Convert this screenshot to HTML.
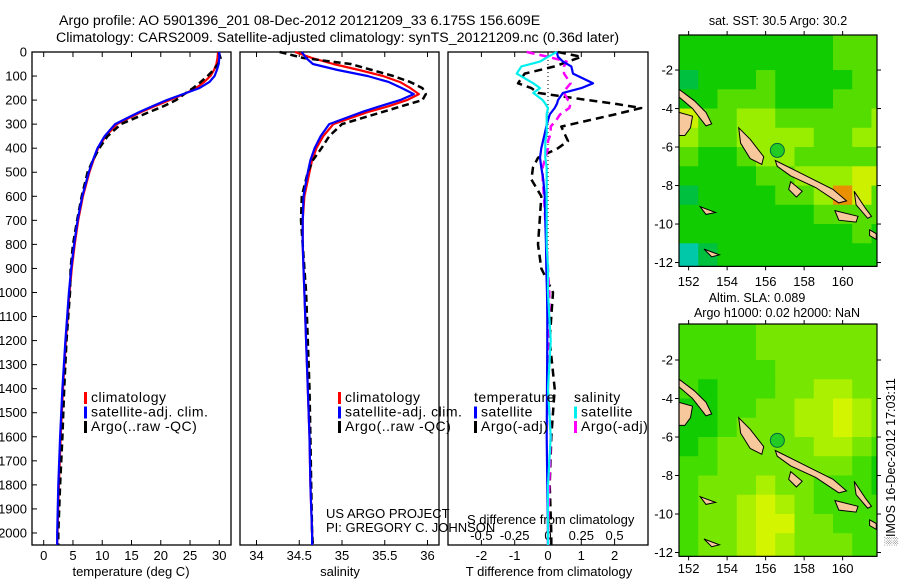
<!DOCTYPE html>
<html><head><meta charset="utf-8"><style>
html,body{margin:0;padding:0;background:#fff;width:900px;height:580px;overflow:hidden}
svg{display:block;font-family:"Liberation Sans",sans-serif}
.lg text{letter-spacing:0.5px}
</style></head><body>
<svg id="chart" width="900" height="580" viewBox="0 0 900 580" xmlns="http://www.w3.org/2000/svg">
<text x="59" y="25" font-size="14.2">Argo profile: AO 5901396_201 08-Dec-2012 20121209_33 6.175S 156.609E</text>
<text x="56" y="42" font-size="14.2">Climatology: CARS2009. Satellite-adjusted climatology: synTS_20121209.nc (0.36d later)</text>
<g id="g"></g>
</svg>
<script>
// ---- profile data ----
const depths=[0,25,50,75,100,125,150,175,200,225,250,300,350,400,450,500,600,700,800,900,1000,1200,1400,1600,1800,2000,2050];
const tClim=[29.8,29.7,29.5,29.1,28.5,27.4,26,24,21.5,19,16.6,12.5,10.6,9.3,8.5,7.8,6.7,5.9,5.3,4.8,4.4,3.8,3.3,2.9,2.6,2.35,2.3];
const tSat=[30.0,30.0,29.9,29.6,29.2,28.3,26.6,23.8,21.0,18.6,16.3,12.2,10.4,9.2,8.4,7.7,6.6,5.8,5.2,4.7,4.3,3.7,3.2,2.8,2.5,2.3,2.3];
const tArgo=[29.9,30.2,29.8,29.0,28.0,26.8,25.5,24.0,22.6,20.5,18.0,13.2,10.9,9.5,8.4,7.5,6.5,5.7,5.0,4.6,4.5,3.9,3.5,3.2,2.8,2.5,2.5];
const sClim=[34.45,34.65,34.9,35.2,35.48,35.68,35.8,35.9,35.76,35.55,35.3,34.9,34.78,34.7,34.65,34.62,34.56,34.54,34.54,34.55,34.56,34.58,34.6,34.62,34.63,34.65,34.65];
const sSat=[34.53,34.58,34.66,34.95,35.3,35.55,35.7,35.84,35.68,35.45,35.23,34.85,34.75,34.68,34.63,34.6,34.55,34.54,34.54,34.55,34.56,34.58,34.6,34.62,34.63,34.65,34.65];
const sArgo=[34.27,34.55,35.1,35.35,35.6,35.8,35.94,35.98,35.94,35.7,35.47,35.0,34.85,34.76,34.66,34.6,34.53,34.52,34.54,34.56,34.58,34.6,34.62,34.63,34.64,34.65,34.66];
const diffDepths=[0,20,40,60,90,130,150,170,200,215,233,260,285,310,340,370,400,440,480,530,600,700,800,900,1000,1100,1200,1400,1600,1800,2000,2050];
const dTSat=[0.26,0.3,0.45,0.7,0.75,1.35,1.0,0.45,0.3,0.27,0.2,0.05,0,-0.05,-0.1,-0.15,-0.2,-0.24,-0.2,-0.14,-0.1,-0.08,-0.06,-0.05,-0.03,-0.02,-0.02,-0.03,-0.04,-0.02,0,0];
const dTArgo=[0.3,1.0,0.6,0.2,-0.7,-0.9,-0.5,-0.3,1.2,2.0,2.8,2.0,1.2,0.4,0.5,0.6,0.3,-0.3,-0.45,-0.5,-0.2,-0.25,-0.3,-0.2,0.15,0.1,0.05,0.2,0.1,0.05,0.1,0.1];
const dSSat=[0.065,0,-0.06,-0.2,-0.235,-0.11,-0.06,-0.11,-0.04,-0.02,0,-0.01,-0.01,-0.01,-0.01,-0.02,-0.02,-0.02,-0.01,-0.01,-0.01,-0.01,-0.01,0,0,0.01,0.02,0,0.02,0,0,0];
const dSArgo=[-0.16,0,0.14,0.12,0.12,0.17,0.14,0.12,0.15,0.17,0.16,0.09,0.06,0.02,0.02,0,0,-0.02,-0.04,-0.04,-0.03,-0.02,-0.01,0,0.01,0.01,0,0,0.02,0.01,0,0];
const depthTicks=[0,100,200,300,400,500,600,700,800,900,1000,1100,1200,1300,1400,1500,1600,1700,1800,1900,2000];
const tTicks=[0,5,10,15,20,25,30];
const sTicks=[34,34.5,35,35.5,36];
const sTickLabels=["34","34.5","35","35.5","36"];
const dtTicks=[-2,-1,0,1,2];
const dsTicks=[-0.5,-0.25,0,0.25,0.5];
const dsTickLabels=["-0.5","-0.25","0","0.25","0.5"];
// ---- map data (1-degree cells, rows lat 0..-12, cols lon 151.5..) palette index ----
const sstGrid=[
[2,2,2,2,2,2,2,2,3,3,3],[2,2,2,2,2,2,2,2,3,3,3],[1,2,2,2,3,2,2,2,2,3,3],[2,2,3,3,3,2,2,2,3,3,3],
[5,3,3,4,4,3,3,3,3,3,4],[4,3,3,4,4,4,4,3,3,4,4],[3,2,2,3,4,4,3,3,3,3,3],[2,2,2,2,3,3,4,4,4,5,5],
[1,2,2,2,2,3,3,4,6,5,3],[2,2,2,2,2,2,2,3,3,3,3],[2,2,2,2,2,2,2,2,2,3,2],[0,1,2,2,2,2,2,2,2,2,2]];
const slaGrid=[
[2,2,2,2,3,3,3,3,3,3,3],[2,2,2,2,3,3,3,3,3,3,3],[2,2,2,2,2,3,3,3,3,3,3],[2,1,2,2,2,3,3,4,4,3,3],
[1,1,2,2,3,3,4,4,5,4,3],[1,1,2,3,3,3,4,4,5,4,3],[1,2,3,3,3,3,3,4,4,3,2],[2,2,3,3,3,3,3,3,3,2,1],
[2,3,3,3,4,3,3,2,2,2,1],[2,3,3,4,5,4,3,2,2,2,2],[2,3,3,4,5,5,3,3,2,2,2],[2,3,3,4,5,4,3,3,3,2,2]];
const lonTicks=[152,154,156,158,160];
const latTicks=[-2,-4,-6,-8,-10,-12];
const floatLon=156.609, floatLat=-6.175;

const NS="http://www.w3.org/2000/svg";
const G=document.getElementById('g');
function mk(tag,attrs,parent){const e=document.createElementNS(NS,tag);for(const k in attrs)e.setAttribute(k,attrs[k]);(parent||G).appendChild(e);return e;}
function txt(x,y,s,size,anchor,parent){const t=mk('text',{x:x,y:y,'font-size':size||13,'text-anchor':anchor||'start'},parent);t.textContent=s;return t;}

const yTop=52, yBot=545;
const yD=d=>yTop+d*(yBot-yTop)/2050;
const xT=t=>43.7+t*5.853;
const xS=s=>342+(s-35)*85.5;
const xDT=v=>548+v*33.3;
const xDS=v=>548+v*133.2;

function panel(x0,x1,name){const r=mk('rect',{x:x0,y:yTop,width:x1-x0,height:yBot-yTop,fill:'none',stroke:'#000','stroke-width':1.3});
}
panel(32,231,'temperature-panel');panel(240,439,'salinity-panel');panel(448,648,'difference-panel');

const yl=mk('g',{});
depthTicks.forEach(d=>{mk('line',{x1:32,x2:37,y1:yD(d),y2:yD(d),stroke:'#000'},yl);txt(27,yD(d)+4.5,String(d),13,'end',yl);});

function xTicks(vals,labels,fx,x0,x1,ylab,gname){const g=mk('g',{});
vals.forEach((v,i)=>{const x=fx(v);mk('line',{x1:x,x2:x,y1:yBot,y2:yBot-5,stroke:'#000'},g);mk('line',{x1:x,x2:x,y1:yTop,y2:yTop+5,stroke:'#000'},g);
 if(ylab!==null)txt(x,ylab,labels[i],13,'middle',g);});return g;}
xTicks(tTicks,tTicks.map(String),xT,32,231,560,'temperature-axis');
xTicks(sTicks,sTickLabels,xS,240,439,560,'salinity-axis');
xTicks(dtTicks,dtTicks.map(String),xDT,448,648,560,'t-difference-axis');
const dsg=mk('g',{});
dsTicks.forEach((v,i)=>txt(xDS(v),540,dsTickLabels[i],13,'middle',dsg));
let t;
t=txt(131,576,'temperature (deg C)',13,'middle');
t=txt(340,576,'salinity',13,'middle');
t=txt(549,576,'T difference from climatology',13,'middle');
t=txt(467,524,'S difference from climatology',13,'start');
t=txt(326,518,'US ARGO PROJECT',13,'start');
t=txt(326,532,'PI: GREGORY C. JOHNSON',13,'start');

const zl=mk('line',{x1:548,x2:548,y1:yTop,y2:yD(900),stroke:'#000','stroke-dasharray':'1,3'});


function series(ds,vals,fx,color,dash,name,w){
 const p=mk('path',{d:vals.map((v,i)=>(i?'L':'M')+fx(v).toFixed(1)+','+yD(ds[i]).toFixed(1)).join(''),fill:'none',stroke:color,'stroke-width':w||2.2,'stroke-dasharray':dash||'none','stroke-linejoin':'round'});
 }
series(depths,tClim,xT,'#f00',null,'temp-climatology-line');
series(depths,tArgo,xT,'#000','7,4','temp-argo-line',2.5);
series(depths,tSat,xT,'#00f',null,'temp-satellite-line');
series(depths,sClim,xS,'#f00',null,'sal-climatology-line');
series(depths,sArgo,xS,'#000','7,4','sal-argo-line',2.5);
series(depths,sSat,xS,'#00f',null,'sal-satellite-line');
series(diffDepths,dTArgo,xDT,'#000','8,5','t-diff-argo-line',2.5);
series(diffDepths,dSArgo,xDS,'#f0f','8,5','s-diff-argo-line',2.5);
series(diffDepths,dTSat,xDT,'#00f',null,'t-diff-satellite-line');
series(diffDepths,dSSat,xDS,'#0ee',null,'s-diff-satellite-line');

function legend(x,y,items,name){const g=mk('g',{class:'lg'});
 items.forEach((it,i)=>{const yy=y+i*14.5;if(it[1]){mk('rect',{x:x,y:yy-10,width:3,height:12,fill:it[1]},g);}txt(x+(it[1]?7:0),yy,it[0],14,'start',g);});}
legend(84,402,[['climatology','#f00'],['satellite-adj. clim.','#00f'],['Argo(..raw -QC)','#000']],'temperature-legend');
legend(338,402,[['climatology','#f00'],['satellite-adj. clim.','#00f'],['Argo(..raw -QC)','#000']],'salinity-legend');
legend(474,402,[['temperature',null],['satellite','#00f'],['Argo(-adj)','#000']],'t-diff-legend');
legend(574,402,[['salinity',null],['satellite','#0ee'],['Argo(-adj)','#f0f']],'s-diff-legend');

// ---- maps ----
const sstPalette=['#00c8a8','#00c040','#11cc00','#55dd00','#99ee00','#ccf000','#e89000'];
const slaPalette=['#00c060','#11cc00','#44dd00','#77e600','#aaf000','#d4f500','#e8f000'];
const islands=[
[[154.6,-5.0],[155.2,-5.6],[155.9,-6.5],[155.8,-6.9],[155.2,-6.6],[154.7,-5.8]],
[[156.5,-6.7],[157.5,-7.2],[158.3,-7.6],[159.5,-8.2],[160.2,-8.8],[159.8,-8.9],[158.6,-8.1],[157.3,-7.5],[156.6,-7.0]],
[[159.6,-9.3],[160.8,-9.6],[160.7,-9.9],[159.8,-9.8]],
[[160.6,-8.3],[161.2,-9.2],[161.5,-9.6],[161.3,-9.7],[160.7,-9.0]],
[[151.5,-3.0],[152.3,-3.6],[152.9,-4.2],[153.2,-4.8],[152.9,-4.9],[152.2,-4.0],[151.5,-3.4]],
[[151.5,-4.2],[152.2,-4.4],[152.1,-5.0],[151.8,-5.4],[151.5,-5.4]],
[[157.3,-7.8],[157.9,-8.3],[157.6,-8.6],[157.2,-8.2]],
[[152.6,-9.1],[153.4,-9.4],[152.9,-9.5]],
[[152.8,-11.3],[153.6,-11.6],[153.2,-11.7]],
[[161.4,-10.3],[161.75,-10.5],[161.75,-10.8],[161.4,-10.6]]];
function drawMap(x0,y0,latTop,grid,palette,name,lx){
 const x1=877,sc=19.25;const lon0=151.5;
 const fx=lon=>x0+(lon-lon0)*sc, fy=lat=>y0+(latTop-lat)*sc;
 const y1=y0+(latTop+12.2)*sc;
 const g=mk('g',{});
 const cid='clip'+name;const cp=mk('clipPath',{id:cid},g);mk('rect',{x:x0,y:y0,width:x1-x0,height:y1-y0},cp);
 const cells=mk('g',{'clip-path':'url(#'+cid+')'},g);
 grid.forEach((row,r)=>row.forEach((v,c)=>{const cell=mk('rect',{x:fx(lon0+c),y:fy(-r),width:sc+0.5,height:(r==11?2:1)*sc+0.5,fill:palette[v]},cells);
  }));
 islands.forEach(pts=>{const p=mk('polygon',{points:pts.map(q=>fx(q[0]).toFixed(1)+','+fy(q[1]).toFixed(1)).join(' '),fill:'#f7c89b',stroke:'#000','stroke-width':1},cells);
  });
 const c=mk('circle',{cx:fx(floatLon),cy:fy(floatLat),r:7,fill:'#22cc22',stroke:'#064','stroke-width':1},cells);
 
 mk('rect',{x:x0,y:y0,width:x1-x0,height:y1-y0,fill:'none',stroke:'#000','stroke-width':1.2},g);
 lonTicks.forEach(l=>{const x=fx(l);mk('line',{x1:x,x2:x,y1:y0,y2:y0-4,stroke:'#000'},g);mk('line',{x1:x,x2:x,y1:y1,y2:y1+4,stroke:'#000'},g);txt(x,lx,String(l),13,'middle',g);});
 latTicks.forEach(l=>{const y=fy(l);mk('line',{x1:x0,x2:x0-4,y1:y,y2:y,stroke:'#000'},g);mk('line',{x1:x1,x2:x1+4,y1:y,y2:y,stroke:'#000'},g);txt(x0-6,y+4.5,String(l),13,'end',g);});
}
drawMap(679,35,-0.18,sstGrid,sstPalette,'sst-map',286);
drawMap(679,324,-0.13,slaGrid,slaPalette,'sla-map',573);
t=txt(778,25,'sat. SST: 30.5 Argo: 30.2',12.5,'middle');
t=txt(757,302,'Altim. SLA: 0.089',12.5,'middle');
t=txt(777,317,'Argo h1000: 0.02 h2000: NaN',12.5,'middle');
t=mk('text',{x:0,y:0,'font-size':12.5,'text-anchor':'middle',transform:'translate(895,462) rotate(-90)'});t.textContent='\u2591IMOS 16-Dec-2012 17:03:11';

</script>
</body></html>
